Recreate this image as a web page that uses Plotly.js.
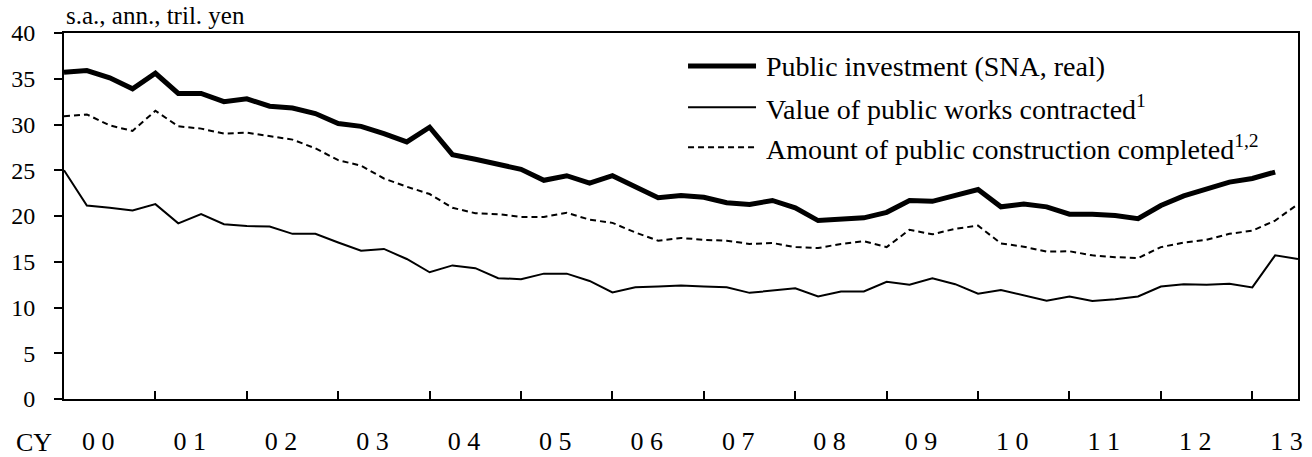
<!DOCTYPE html>
<html>
<head>
<meta charset="utf-8">
<script src="https://cdn.plot.ly/plotly-3.0.1.min.js"></script>
<style>
  html, body { margin: 0; padding: 0; background: #fff; }
  #chart { width: 1312px; height: 457px; }
</style>
</head>
<body>
<div id="chart"></div>
<script>
// quarterly series, CY2000 Q1 onward (s.a., annualized, tril. yen)
var publicInvestment = [35.7, 35.9, 35.1, 33.9, 35.6, 33.4, 33.4, 32.5, 32.8, 32.0,
  31.8, 31.2, 30.1, 29.8, 29.0, 28.1, 29.7, 26.7, 26.2, 25.7,
  25.1, 23.9, 24.4, 23.6, 24.4, 23.2, 22.0, 22.25, 22.05, 21.45,
  21.25, 21.7, 20.9, 19.5, 19.7, 19.8, 20.4, 21.7, 21.6, 22.2,
  22.9, 21.0, 21.3, 21.0, 20.2, 20.2, 20.05, 19.7, 21.15, 22.2,
  23.0, 23.7, 24.1, 24.8];
var worksContracted = [25.0, 21.15, 20.9, 20.6, 21.3, 19.2, 20.2, 19.1, 18.9, 18.85,
  18.05, 18.05, 17.1, 16.2, 16.4, 15.3, 13.85, 14.6, 14.3, 13.2,
  13.1, 13.7, 13.7, 12.9, 11.65, 12.2, 12.3, 12.4, 12.3, 12.2,
  11.6, 11.85, 12.1, 11.2, 11.75, 11.75, 12.8, 12.5, 13.2, 12.55,
  11.5, 11.9, 11.3, 10.75, 11.2, 10.7, 10.9, 11.2, 12.3, 12.55,
  12.5, 12.6, 12.2, 15.7, 15.3];
var constructionCompleted = [30.9, 31.1, 29.9, 29.3, 31.5, 29.8, 29.55, 29.0, 29.1, 28.7,
  28.35, 27.4, 26.1, 25.5, 24.1, 23.2, 22.4, 20.9, 20.3, 20.2,
  19.9, 19.9, 20.35, 19.6, 19.25, 18.2, 17.3, 17.6, 17.4, 17.3,
  16.95, 17.05, 16.6, 16.5, 16.95, 17.25, 16.6, 18.5, 18.0, 18.6,
  18.95, 17.0, 16.65, 16.1, 16.15, 15.7, 15.5, 15.4, 16.6, 17.1,
  17.4, 18.05, 18.4, 19.5, 21.3];
var yearLabels = ["0 0", "0 1", "0 2", "0 3", "0 4", "0 5", "0 6", "0 7",
  "0 8", "0 9", "1 0", "1 1", "1 2", "1 3"];
var seriesNames = ["Public investment (SNA, real)",
  "Value of public works contracted<sup>1</sup>",
  "Amount of public construction completed<sup>1,2</sup>"];

var font = "'Liberation Serif', 'Times New Roman', serif";
var qIndex = function (arr) { return arr.map(function (v, i) { return i; }); };

var lineStyles = [
  {color: "black", width: 5},
  {color: "black", width: 2},
  {color: "black", width: 2, dash: "6px,4px"}
];

var data = [
  {x: qIndex(publicInvestment), y: publicInvestment, type: "scatter", mode: "lines",
   name: seriesNames[0], line: lineStyles[0]},
  {x: qIndex(worksContracted), y: worksContracted, type: "scatter", mode: "lines",
   name: seriesNames[1], line: lineStyles[1]},
  {x: qIndex(constructionCompleted), y: constructionCompleted, type: "scatter", mode: "lines",
   name: seriesNames[2], line: lineStyles[2]}
];

// year labels sit mid-year, ticks at year boundaries
var labelPos = yearLabels.map(function (s, k) { return 4 * k + 1.5; });
var yearTicks = [];
for (var k = 1; k < yearLabels.length; k++) yearTicks.push(4 * k);

// hand-made legend (longer line samples than plotly's own)
var legY = [0.9096, 0.7973, 0.6877];
var shapes = [], annotations = [];
lineStyles.forEach(function (ls, i) {
  shapes.push({type: "line", xref: "paper", yref: "paper",
    x0: 0.5057, x1: 0.5608, y0: legY[i], y1: legY[i], line: ls});
  annotations.push({xref: "paper", yref: "paper", x: 0.5673, y: legY[i],
    xanchor: "left", yanchor: "middle", showarrow: false, text: seriesNames[i],
    font: {family: font, size: 28, color: "black"}});
});
annotations.push({xref: "paper", yref: "paper", x: 0, y: 1.0466, xanchor: "left",
  yanchor: "middle", showarrow: false, text: "s.a., ann., tril. yen",
  font: {family: font, size: 25, color: "black"}});
annotations.push({xref: "paper", yref: "paper", x: -0.0243, y: -0.12, xanchor: "center",
  yanchor: "middle", showarrow: false, text: "CY",
  font: {family: font, size: 26, color: "black"}});

var layout = {
  width: 1312, height: 457,
  margin: {l: 64, r: 14, t: 33, b: 58},
  paper_bgcolor: "white", plot_bgcolor: "white",
  showlegend: false,
  font: {family: font, color: "black"},
  xaxis: {
    range: [0, 54], showgrid: false, zeroline: false,
    showline: true, linecolor: "black", linewidth: 2, mirror: true,
    tickmode: "array", tickvals: labelPos, ticktext: yearLabels, ticks: "",
    tickfont: {family: font, size: 26, color: "black"}, ticklabelstandoff: 18,
    minor: {tickmode: "array", tickvals: yearTicks, ticks: "inside", ticklen: 8,
      tickwidth: 2, tickcolor: "black", showgrid: false}
  },
  yaxis: {
    range: [0, 40], dtick: 5, tick0: 0, showgrid: false, zeroline: false,
    showline: true, linecolor: "black", linewidth: 2, mirror: true,
    ticks: "outside", ticklen: 8, tickwidth: 2, tickcolor: "black",
    tickfont: {family: font, size: 24, color: "black"}, ticklabelstandoff: 14
  },
  shapes: shapes,
  annotations: annotations
};

Plotly.newPlot("chart", data, layout, {staticPlot: true, displayModeBar: false});
</script>
</body>
</html>
